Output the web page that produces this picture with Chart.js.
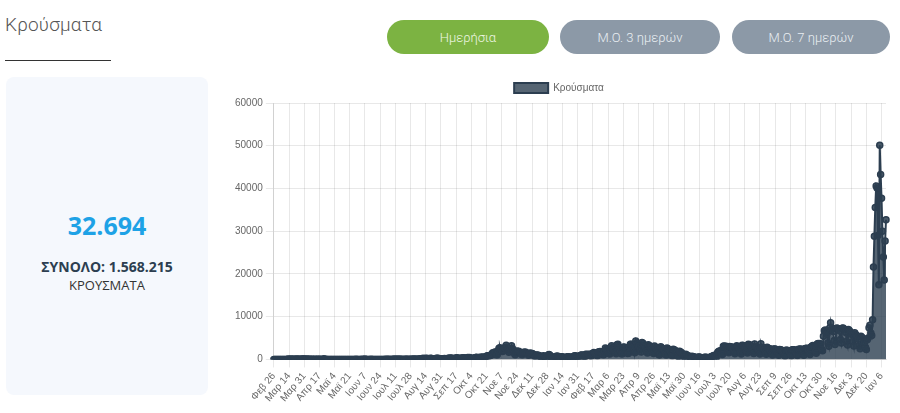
<!DOCTYPE html>
<html lang="el">
<head>
<meta charset="utf-8">
<title>Κρούσματα</title>
<script src="https://cdn.jsdelivr.net/npm/chart.js@4.4.1/dist/chart.umd.min.js"></script>
<style>
  html, body { margin: 0; padding: 0; background: #fff; }
  body { width: 900px; height: 413px; position: relative; overflow: hidden; font-family: Roboto, "Noto Sans", sans-serif; }
  .title { position: absolute; left: 5px; top: 13px; font-size: 19px; font-weight: 300; color: #555; letter-spacing: .2px; }
  .rule { position: absolute; left: 5px; top: 60px; width: 106px; height: 1px; background: #333; }
  .btn { position: absolute; top: 20px; height: 34px; border-radius: 17px; color: #e9eef2; font-size: 13px; font-weight: 300;
    display: flex; align-items: center; justify-content: center; }
  .btn.on { background: #7cb342; color: #eef6e2; }
  .btn.off { background: #8c99a7; }
  .card { position: absolute; left: 6px; top: 77px; width: 202px; height: 318px; background: #f5f8fd; border-radius: 8px;
    font-family: "Open Sans", "Noto Sans", sans-serif; text-align: center; }
  .big { position: absolute; left: 0; right: 0; top: 131px; font-size: 25px; font-weight: 700; color: #1ea2e6; }
  .total { position: absolute; left: 0; right: 0; top: 180px; font-size: 14px; font-weight: 700; color: #2c3e50; }
  .unit { position: absolute; left: 0; right: 0; top: 199px; font-size: 13px; color: #333; }
  .chart-box { position: absolute; left: 229px; top: 77px; width: 671px; height: 330px; }
</style>
</head>
<body>
<div class="title">Κρούσματα</div>
<div class="rule"></div>
<div class="btn on" style="left:387px;width:162px">Ημερήσια</div>
<div class="btn off" style="left:560px;width:160px">Μ.Ο. 3 ημερών</div>
<div class="btn off" style="left:732px;width:158px">Μ.Ο. 7 ημερών</div>
<div class="card">
  <div class="big">32.694</div>
  <div class="total">ΣΥΝΟΛΟ: 1.568.215</div>
  <div class="unit">ΚΡΟΥΣΜΑΤΑ</div>
</div>
<div class="chart-box"><canvas id="casesChart"></canvas></div>
<script>
// daily cases, one line per month, starting 26 Feb 2020
const cases2020 = [
  1, 2, 0, 4,
  0, 0, 0, 2, 22, 13, 4, 7, 11, 11, 1, 10, 91, 38, 0, 103, 48, 56, 31, 46, 76, 35, 94, 71, 79, 80, 75, 71, 93, 102, 95,
  52, 29, 129, 54, 62, 58, 42, 19, 77, 27, 20, 48, 20, 25, 30, 22, 49, 61, 12, 13, 8, 156, 15, 51, 11, 14, 13, 17, 11, 11,
  21, 3, 5, 3, 15, 5, 7, 3, 12, 19, 2, 12, 10, 11, 12, 6, 13, 16, 16, 3, 12, 5, 3, 10, 3, 3, 8, 28, 8, 4, 18,
  3, 1, 10, 31, 7, 20, 97, 1, 8, 10, 9, 7, 6, 23, 10, 10, 18, 14, 19, 17, 15, 20, 9, 5, 15, 15, 6, 14, 14, 26,
  8, 34, 8, 45, 15, 19, 6, 27, 39, 30, 38, 39, 28, 27, 28, 48, 23, 16, 23, 13, 22, 31, 26, 33, 21, 50, 20, 30, 57, 58, 40,
  110, 36, 28, 38, 37, 53, 89, 152, 108, 121, 262, 159, 121, 262, 230, 217, 154, 111, 269, 234, 254, 183, 181, 196, 137, 284, 284, 228, 250, 165, 169,
  157, 158, 151, 222, 151, 193, 231, 201, 295, 372, 199, 327, 246, 197, 184, 285, 370, 378, 291, 223, 205, 304, 308, 339, 423, 319, 305, 284, 297, 459,
  399, 460, 330, 243, 229, 262, 254, 401, 470, 520, 347, 309, 453, 504, 490, 508, 578, 462, 468, 596, 751, 882, 865, 841, 935, 1026, 1259, 1547, 1211, 1690, 1738,
  1190, 1128, 2077, 2646, 2748, 1914, 2300, 1869, 2256, 2752, 2646, 3316, 2835, 2198, 1695, 2311, 2486, 3209, 2581, 2202, 1498, 1133, 1789, 1978, 1788, 1914, 1747, 1595, 1197, 1080,
  1616, 1681, 1670, 1677, 1372, 1281, 1014, 1390, 1535, 1321, 1395, 1253, 1101, 689, 876, 1029, 1037, 877, 939, 635, 445, 664, 749, 848, 652, 496, 335, 404, 1047, 1161, 962
];
const cases2021 = [
  498, 352, 257, 413, 603, 612, 778, 732, 745, 451, 375, 559, 640, 599, 545, 445, 374, 307, 634, 507, 627, 565, 479, 419, 256, 632, 826, 858, 794, 653, 598,
  397, 806, 936, 1033, 1020, 941, 664, 574, 1213, 1157, 1155, 1186, 1215, 905, 798, 1352, 1397, 1629, 1579, 1305, 1103, 891, 1731, 1730, 1891, 1813, 1598, 1237,
  1076, 1946, 2702, 2353, 2343, 1780, 1416, 1266, 2329, 3215, 2792, 2352, 2128, 1636, 1334, 3465, 3586, 2916, 2666, 1826, 1353, 1342, 2833, 2945, 2753, 2722, 1886, 1374, 1476, 3025, 3571,
  3586, 3215, 2945, 1983, 1567, 4340, 3834, 3447, 3089, 3067, 2311, 1768, 3960, 3818, 3227, 3122, 2902, 1897, 1532, 3442, 3290, 2946, 2776, 2412, 1657, 1383, 3157, 2747, 2587, 2013,
  1573, 1129, 1089, 2959, 2697, 2573, 2394, 2035, 1361, 1046, 2673, 2531, 2284, 2047, 1775, 1114, 857, 2395, 2217, 2131, 1779, 1461, 872, 586, 1944, 1738, 1644, 1349, 1088, 676, 402,
  1208, 1052, 897, 757, 752, 440, 270, 743, 651, 610, 509, 431, 300, 202, 591, 551, 458, 449, 396, 267, 152, 492, 536, 447, 451, 417, 297, 189, 648, 672,
  756, 903, 833, 524, 333, 1401, 1731, 1900, 1765, 2118, 1347, 1175, 3109, 3149, 2944, 3080, 2636, 1841, 1580, 3059, 2965, 2853, 2886, 2448, 1658, 1367, 2994, 3190, 2890, 2838, 2583,
  1607, 1308, 3321, 3287, 3072, 3193, 2690, 1825, 1536, 3560, 3472, 3305, 3050, 2686, 1856, 1378, 3600, 3047, 2755, 2784, 2305, 1605, 1276, 3700, 2884, 2677, 2729, 2286, 1591, 1213, 2845,
  2633, 2567, 2529, 2026, 1324, 1055, 2470, 2419, 2425, 2335, 1765, 1173, 970, 2353, 2296, 2143, 2092, 1704, 1150, 830, 2155, 2152, 2080, 2013, 1768, 1187, 868, 2288, 2263, 2249,
  2180, 1795, 1190, 925, 2391, 2330, 2424, 2402, 2050, 1343, 1010, 2503, 2576, 2643, 2559, 2294, 1493, 1173, 2907, 3010, 3257, 3160, 2788, 1815, 1468, 3592, 3739, 3651, 3720, 3306, 2364,
  2064, 5449, 6700, 6909, 6569, 6020, 3844, 3067, 7335, 8613, 7018, 7317, 6526, 4451, 3526, 7198, 7335, 7238, 7212, 6736, 4693, 3859, 7300, 7342, 7115, 6994, 6309, 4285, 3385, 7033,
  6796, 6420, 6126, 5766, 4256, 3148, 6259, 5844, 5620, 5350, 4712, 3138, 2509, 5460, 5221, 4912, 4610, 4024, 2838, 2321, 4600, 5000, 7420, 8000, 6200, 5600, 9300, 21657, 28828, 35580, 40560
];
const cases2022 = [40100, 29000, 17500, 50126, 43300, 37700, 30000, 24000, 18600, 27700, 32694];

const monthNames = ["Ιαν", "Φεβ", "Μαρ", "Απρ", "Μαϊ", "Ιουν", "Ιουλ", "Αυγ", "Σεπ", "Οκτ", "Νοε", "Δεκ"];
const yTicks = [0, 10000, 20000, 30000, 40000, 50000, 60000];
const tickEvery = 17;
const tickFont = { size: 10, family: "Arial, Liberation Sans, sans-serif" };

const cases = [...cases2020, ...cases2021, ...cases2022];
const labels = cases.map((_, i) => {
  const d = new Date(Date.UTC(2020, 1, 26 + i));
  return `${monthNames[d.getUTCMonth()]} ${d.getUTCDate()}`;
});

new Chart(document.getElementById("casesChart"), {
  type: "line",
  data: {
    labels,
    datasets: [{
      label: "Κρούσματα",
      data: cases,
      fill: true,
      backgroundColor: "rgba(44,62,80,.8)",
      borderColor: "#2c3e50",
      borderWidth: 2,
      pointRadius: 3,
      pointBackgroundColor: "rgba(44,62,80,.85)",
      pointBorderColor: "#2c3e50",
      pointBorderWidth: 1.5,
      tension: 0
    }]
  },
  options: {
    responsive: true,
    maintainAspectRatio: false,
    animation: false,
    layout: { padding: { left: 3, right: 14 } },
    plugins: {
      legend: { labels: { boxWidth: 34, boxHeight: 10, padding: 6, color: "#666", font: tickFont } },
      tooltip: { enabled: false }
    },
    scales: {
      x: {
        grid: { color: "rgba(0,0,0,.09)" },
        ticks: {
          autoSkip: false, minRotation: 50, maxRotation: 50, color: "#666", font: tickFont,
          callback(value, index) { return index % tickEvery === 0 ? this.getLabelForValue(value) : null; }
        }
      },
      y: {
        min: yTicks[0], max: yTicks[yTicks.length - 1],
        grid: { color: "rgba(0,0,0,.09)" },
        ticks: { stepSize: yTicks[1] - yTicks[0], color: "#666", font: tickFont, callback: value => String(value) }
      }
    }
  }
});
</script>
</body>
</html>
